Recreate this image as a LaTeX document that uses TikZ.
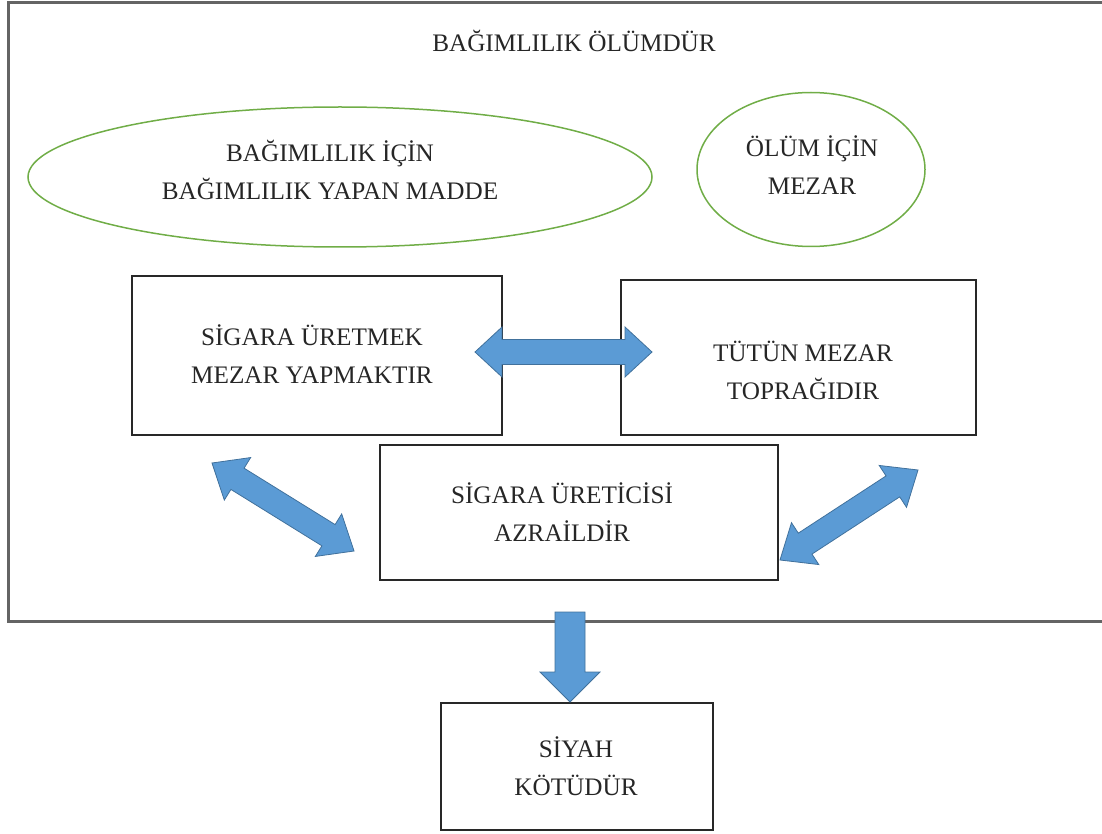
\documentclass[tikz,border=0pt]{standalone}
\usepackage{fontspec}
\setmainfont{Liberation Serif}
\usetikzlibrary{calc,shapes.geometric}
\definecolor{arrowfill}{RGB}{91,155,213}
\definecolor{arrowline}{RGB}{65,113,156}
\definecolor{ellgreen}{RGB}{112,173,71}
\definecolor{framegray}{RGB}{100,100,100}
\definecolor{boxline}{RGB}{40,40,40}
\tikzset{
  boxnode/.style={draw=boxline, line width=1.6pt, rectangle, inner sep=0pt},
  ellnode/.style={draw=ellgreen, line width=1.5pt, ellipse, inner sep=0pt},
  txt/.style={align=center, inner sep=0pt, text=black!85, font=\fontsize{25.2}{38}\selectfont},
  blockarrow/.style={fill=arrowfill, draw=arrowline, line width=0.8pt, line join=miter},
}
% double block arrow between two named coordinates: #1,#2 ends; #3 head length; #4 head half-width; #5 shaft half-width
\newcommand{\dblblock}[5]{%
  \draw[blockarrow] (#1)
    -- ($(#1)!#3!(#2)!#4!90:(#2)$)
    -- ($(#1)!#3!(#2)!#5!90:(#2)$)
    -- ($(#2)!#3!(#1)!#5!-90:(#1)$)
    -- ($(#2)!#3!(#1)!#4!-90:(#1)$)
    -- (#2)
    -- ($(#2)!#3!(#1)!#4!90:(#1)$)
    -- ($(#2)!#3!(#1)!#5!90:(#1)$)
    -- ($(#1)!#3!(#2)!#5!-90:(#2)$)
    -- ($(#1)!#3!(#2)!#4!-90:(#2)$)
    -- cycle;}
\begin{document}
\begin{tikzpicture}[x=1pt,y=-1pt]
\useasboundingbox (0,0) rectangle (1102,834);
\clip (0,0) rectangle (1102,834);
% outer frame (right edge outside the picture)
\draw[framegray, line width=3pt] (1130,3) -- (8,3) -- (8,621) -- (1130,621);

% boxes
\node[boxnode, minimum width=370pt, minimum height=159pt] (b1) at (317,355.5) {};
\node[boxnode, minimum width=355pt, minimum height=155pt] (b2) at (798.5,357.5) {};
\node[boxnode, minimum width=398pt, minimum height=135pt] (b3) at (579,512.5) {};
\node[boxnode, minimum width=272pt, minimum height=127pt] (b4) at (577,766.5) {};

% ellipses
\node[ellnode, minimum width=624pt, minimum height=140pt] (e1) at (340,177) {};
\node[ellnode, minimum width=228pt, minimum height=154pt] (e2) at (811,169.5) {};

% arrow end points
\coordinate (h1) at (475,352);
\coordinate (h2) at (652,352);
\coordinate (l1) at (212,463);
\coordinate (l2) at (354,551);
\coordinate (r1) at (780,560);
\coordinate (r2) at (918,470);
\coordinate (d1) at (570,612);
\coordinate (d2) at (570,702);

\dblblock{h1}{h2}{27pt}{25pt}{12.5pt}
\dblblock{l1}{l2}{30pt}{25pt}{12.5pt}
\dblblock{r1}{r2}{30pt}{25pt}{12.5pt}
\draw[blockarrow] (555,612) -- (585,612) -- (585,672) -- (600,672) -- (d2)
  -- (540,672) -- (555,672) -- cycle;

% texts
\node[txt] (title) at (574,41) {BAĞIMLILIK ÖLÜMDÜR};
\node[txt] (t1) at (330,170) {BAĞIMLILIK İÇİN\\BAĞIMLILIK YAPAN MADDE};
\node[txt] (t2) at (812,165) {ÖLÜM İÇİN\\MEZAR};
\node[txt] (t3) at (312,354) {SİGARA ÜRETMEK\\MEZAR YAPMAKTIR};
\node[txt] (t4) at (803,370) {TÜTÜN MEZAR\\TOPRAĞIDIR};
\node[txt] (t5) at (562,512) {SİGARA ÜRETİCİSİ\\AZRAİLDİR};
\node[txt] (t6) at (576,766) {SİYAH\\KÖTÜDÜR};
\end{tikzpicture}
\end{document}
